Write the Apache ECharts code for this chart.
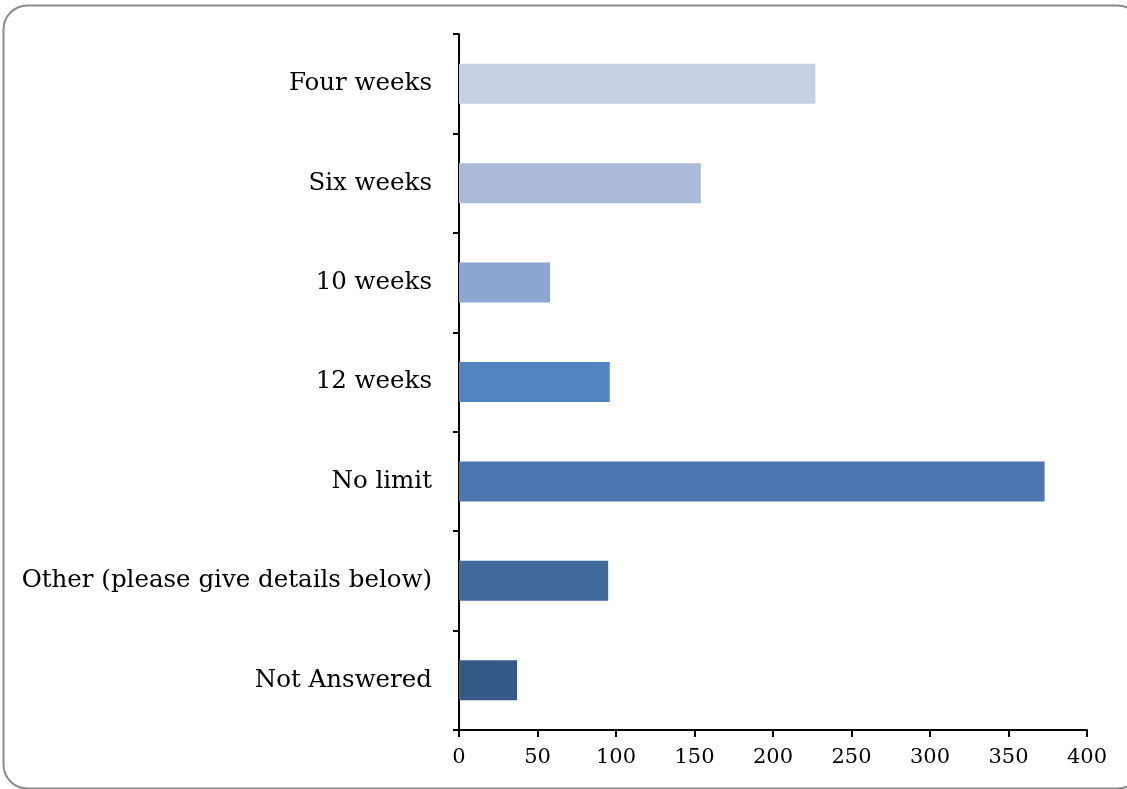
<!DOCTYPE html>
<html>
<head>
<meta charset="utf-8">
<title>Time limit</title>
<script src="https://cdn.jsdelivr.net/npm/echarts@6/dist/echarts.min.js"></script>
<style>
  html, body { margin: 0; padding: 0; background: #ffffff; }
  #chart { width: 1127px; height: 789px; }
</style>
</head>
<body>
<div id="chart"></div>
<script>
// Response categories, top to bottom
const categories = [
  'Four weeks',
  'Six weeks',
  '10 weeks',
  '12 weeks',
  'No limit',
  'Other (please give details below)',
  'Not Answered'
];
// Number of responses per category
const responses = [227, 154, 58, 96, 373, 95, 37];
// Bar fill per category
const barColors = ['#C5D0E2', '#ABBAD7', '#8BA6D0', '#5083C0', '#4876AD', '#41699C', '#365A88'];
// Value axis range
const axisMin = 0;
const axisMax = 400;
const axisStep = 50;

const fontFamily = '"DejaVu Serif", "Liberation Serif", serif';

const chart = echarts.init(document.getElementById('chart'), null, { renderer: 'canvas' });

chart.setOption({
  animation: false,
  backgroundColor: '#ffffff',
  graphic: [{
    type: 'rect',
    shape: { x: 3.5, y: 5.5, width: 1138, height: 783, r: 24 },
    style: { fill: 'none', stroke: '#8a8a8a', lineWidth: 2 },
    silent: true,
    z: -1
  }],
  grid: {
    left: 459, right: 40, top: 34, bottom: 59,
    containLabel: false,
    outerBoundsMode: 'none'
  },
  xAxis: {
    type: 'value',
    min: axisMin,
    max: axisMax,
    interval: axisStep,
    splitLine: { show: false },
    axisLine: { show: true, lineStyle: { color: '#000000', width: 2 } },
    axisTick: { show: true, length: 7, lineStyle: { color: '#000000', width: 2 } },
    axisLabel: { color: '#000000', fontFamily: fontFamily, fontSize: 21, margin: 17 }
  },
  yAxis: {
    type: 'category',
    data: categories,
    inverse: true,
    axisLine: { show: true, lineStyle: { color: '#000000', width: 2 } },
    axisTick: { show: true, length: 6, alignWithLabel: false, lineStyle: { color: '#000000', width: 2 } },
    axisLabel: { color: '#000000', fontFamily: fontFamily, fontSize: 24.5, margin: 27 }
  },
  series: [{
    type: 'bar',
    data: responses.map((v, i) => ({ value: v, itemStyle: { color: barColors[i] } })),
    barWidth: 40
  }]
});
</script>
</body>
</html>
